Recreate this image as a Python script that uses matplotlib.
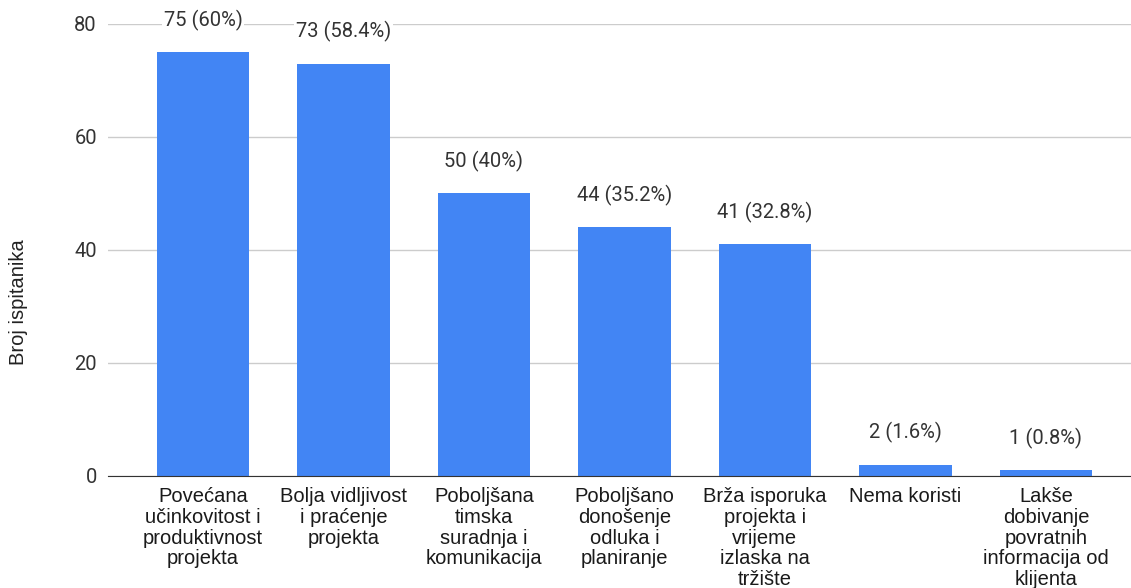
import matplotlib.pyplot as plt
import numpy as np

# data
categories = [
    'Povećana\nučinkovitost i\nproduktivnost\nprojekta',
    'Bolja vidljivost\ni praćenje\nprojekta',
    'Poboljšana\ntimska\nsuradnja i\nkomunikacija',
    'Poboljšano\ndonošenje\nodluka i\nplaniranje',
    'Brža isporuka\nprojekta i\nvrijeme\nizlaska na\ntržište',
    'Nema koristi',
    'Lakše\ndobivanje\npovratnih\ninformacija od\nklijenta',
]
counts = [75, 73, 50, 44, 41, 2, 1]
percents = ['60%', '58.4%', '40%', '35.2%', '32.8%', '1.6%', '0.8%']
y_ticks = [0, 20, 40, 60, 80]

fig = plt.figure(figsize=(11.31, 5.88), dpi=100)
ax = fig.add_axes([0.0955, 0.1905, 0.9045, 0.7687])

x = np.arange(len(counts))
bars = ax.bar(x, counts, width=0.655, color='#4285f4', zorder=3)

for xi, c, p in zip(x, counts, percents):
    ax.annotate(f'{c} ({p})', (xi, c), xytext=(0, 23), textcoords='offset points',
                ha='center', va='center', fontsize=14.5, family='Roboto', color='#333333',
                bbox=dict(facecolor='white', edgecolor='none', pad=1.5), zorder=4)

ax.set_ylim(0, 80)
ax.set_xlim(-0.676, 6.605)
ax.set_yticks(y_ticks)
ax.set_yticklabels([str(t) for t in y_ticks], family='Roboto', fontsize=14.5, color='#333333')
ax.set_xticks(x)
ax.set_xticklabels(categories, family='Liberation Sans', fontsize=14.5, color='#1a1a1a',
                   linespacing=1.12, va='top')
ax.tick_params(axis='both', length=0)
ax.tick_params(axis='x', pad=8)
ax.tick_params(axis='y', pad=8)
ax.grid(axis='y', color='#cccccc', linewidth=1, zorder=0)
for s in ['top', 'right', 'left']:
    ax.spines[s].set_visible(False)
ax.spines['bottom'].set_color('#333333')
ax.spines['bottom'].set_zorder(5)

ax.set_ylabel('Broj ispitanika', family='Liberation Sans', fontsize=14.5, color='#222222')
ax.yaxis.set_label_coords(-0.078, 0.385)

fig.savefig('out.png', dpi=100)
